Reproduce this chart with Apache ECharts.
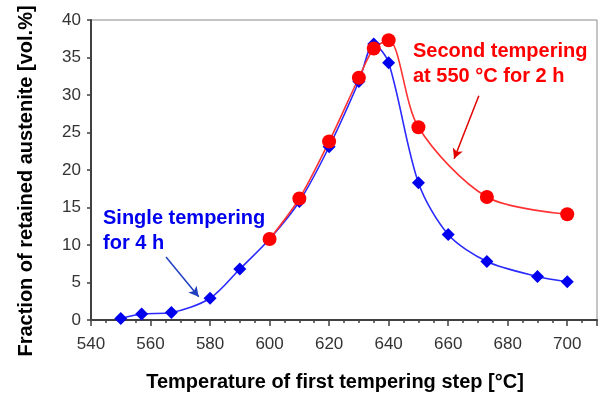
<!DOCTYPE html>
<html>
<head>
<meta charset="utf-8">
<script src="https://cdn.jsdelivr.net/npm/echarts@6/dist/echarts.min.js"></script>
<style>
  html, body { margin: 0; padding: 0; background: #fff; }
  #chart { width: 598px; height: 394px; }
</style>
</head>
<body>
<div id="chart"></div>
<script>
// single tempering for 4 h
const singleTemp = [550, 557, 567, 580, 590, 600, 610, 620, 630, 635, 640, 650, 660, 673, 690, 700]
const singleVal = [0.2, 0.8, 1.0, 2.9, 6.8, 10.8, 15.8, 23.1, 31.8, 36.8, 34.3, 18.3, 11.4, 7.8, 5.8, 5.1]

// second tempering at 550 °C for 2 h
const secondTemp = [600, 610, 620, 630, 635, 640, 650, 673, 700]
const secondVal = [10.8, 16.2, 23.8, 32.3, 36.2, 37.3, 25.7, 16.4, 14.1]

const xTicks = [540, 560, 580, 600, 620, 640, 660, 680, 700]

const font = 'Liberation Sans, Arial, sans-serif'
const chart = echarts.init(document.getElementById('chart'))

const pairs = (xs, ys) => xs.map((x, i) => [x, ys[i]])

chart.setOption({
  animation: false,
  grid: {
    left: 91, right: 1, top: 20, bottom: 74,
    outerBoundsMode: 'none',
    show: true, borderColor: '#8a8a8a', borderWidth: 1
  },
  xAxis: {
    type: 'value',
    min: 540,
    max: 710,
    interval: 20,
    name: 'Temperature of first tempering step [°C]',
    nameLocation: 'middle',
    nameGap: 52,
    nameTextStyle: { fontFamily: font, fontSize: 20, fontWeight: 'bold', color: '#000', padding: [0, 18, 0, 0] },
    axisLine: { lineStyle: { color: '#404040', width: 2 } },
    axisTick: { length: 6, lineStyle: { color: '#404040', width: 1.5 } },
    minorTick: { show: true, splitNumber: 4, length: 3, lineStyle: { color: '#404040', width: 1.5 } },
    splitLine: { show: false },
    axisLabel: {
      fontFamily: font, fontSize: 17, color: '#333', margin: 16,
      formatter: v => (xTicks.includes(v) ? String(v) : '')
    }
  },
  yAxis: {
    type: 'value',
    min: 0,
    max: 40,
    interval: 5,
    name: 'Fraction of retained austenite [vol.%]',
    nameLocation: 'middle',
    nameGap: 55,
    nameTextStyle: { fontFamily: font, fontSize: 20, fontWeight: 'bold', color: '#000', padding: [0, 22, 0, 0] },
    axisLine: { lineStyle: { color: '#404040', width: 2 } },
    axisTick: { length: 4, lineStyle: { color: '#404040', width: 1.5 } },
    splitLine: { show: false },
    axisLabel: { fontFamily: font, fontSize: 17, color: '#333', margin: 10 }
  },
  series: [
    {
      name: 'Single tempering for 4 h',
      type: 'line',
      data: pairs(singleTemp, singleVal),
      smooth: 0.3,
      symbol: 'diamond',
      symbolSize: 13,
      lineStyle: { color: '#2a2aff', width: 1.6 },
      itemStyle: { color: '#0000ee' },
      markLine: {
        silent: true,
        symbol: ['none', 'arrow'],
        symbolSize: [8, 10],
        label: { show: false },
        lineStyle: { color: '#1f3fbf', width: 1.5, type: 'solid' },
        data: [[{ coord: [565.2, 8.4] }, { coord: [576.2, 3.1] }]]
      }
    },
    {
      name: 'Second tempering at 550 °C for 2 h',
      type: 'line',
      data: pairs(secondTemp, secondVal),
      smooth: 0.3,
      symbol: 'circle',
      symbolSize: 14,
      lineStyle: { color: '#ff3333', width: 1.6 },
      itemStyle: { color: '#ff0000' },
      markLine: {
        silent: true,
        symbol: ['none', 'arrow'],
        symbolSize: [8, 10],
        label: { show: false },
        lineStyle: { color: '#e00000', width: 1.5, type: 'solid' },
        data: [[{ coord: [670.3, 29.9] }, { coord: [662.0, 21.5] }]]
      }
    }
  ],
  graphic: [
    {
      type: 'text', left: 103, top: 206,
      style: {
        text: 'Single tempering\nfor 4 h',
        fill: '#0000ee', font: 'bold 20px ' + font, lineHeight: 25
      }
    },
    {
      type: 'text', left: 413, top: 39,
      style: {
        text: 'Second tempering\nat 550 °C for 2 h',
        fill: '#ff0000', font: 'bold 20px ' + font, lineHeight: 25
      }
    }
  ]
})
</script>
</body>
</html>
